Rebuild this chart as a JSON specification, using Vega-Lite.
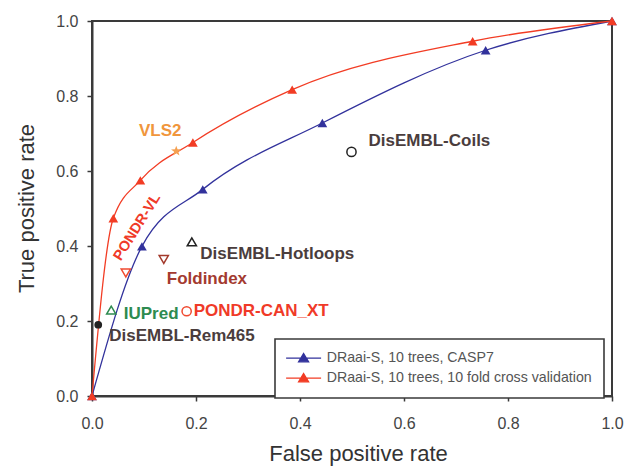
{
  "$schema": "https://vega.github.io/schema/vega-lite/v6.json",
  "width": 520,
  "height": 375,
  "autosize": {"type": "none"},
  "padding": {"left": 92, "top": 21, "right": 12, "bottom": 71},
  "background": "white",
  "config": {
    "font": "Liberation Sans",
    "view": {"stroke": "#3a3a3a", "strokeWidth": 2},
    "axis": {
      "grid": false,
      "domainColor": "#3a3a3a",
      "domainWidth": 2,
      "tickColor": "#3a3a3a",
      "tickWidth": 1.5,
      "tickSize": 5,
      "labelFont": "Liberation Sans",
      "labelFontSize": 16,
      "labelColor": "#444444",
      "labelFlush": false,
      "titleFont": "Liberation Sans",
      "titleFontSize": 22,
      "titleFontWeight": "normal",
      "titleColor": "#333333"
    }
  },
  "datasets": {
    "curves": [
      {"series": "DRaai-S, 10 trees, CASP7", "fpr": 0.0, "tpr": 0.0},
      {"series": "DRaai-S, 10 trees, CASP7", "fpr": 0.096, "tpr": 0.399},
      {"series": "DRaai-S, 10 trees, CASP7", "fpr": 0.213, "tpr": 0.551},
      {"series": "DRaai-S, 10 trees, CASP7", "fpr": 0.443, "tpr": 0.728},
      {"series": "DRaai-S, 10 trees, CASP7", "fpr": 0.757, "tpr": 0.922},
      {"series": "DRaai-S, 10 trees, CASP7", "fpr": 1.0, "tpr": 1.0},
      {"series": "DRaai-S, 10 trees, 10 fold cross validation", "fpr": 0.0, "tpr": 0.0},
      {"series": "DRaai-S, 10 trees, 10 fold cross validation", "fpr": 0.041, "tpr": 0.474},
      {"series": "DRaai-S, 10 trees, 10 fold cross validation", "fpr": 0.093, "tpr": 0.575},
      {"series": "DRaai-S, 10 trees, 10 fold cross validation", "fpr": 0.194, "tpr": 0.676},
      {"series": "DRaai-S, 10 trees, 10 fold cross validation", "fpr": 0.385, "tpr": 0.817},
      {"series": "DRaai-S, 10 trees, 10 fold cross validation", "fpr": 0.732, "tpr": 0.946},
      {"series": "DRaai-S, 10 trees, 10 fold cross validation", "fpr": 1.0, "tpr": 1.0}
    ],
    "markers": [
      {"method": "VLS2", "fpr": 0.162, "tpr": 0.653},
      {"method": "DisEMBL-Coils", "fpr": 0.499, "tpr": 0.651},
      {"method": "DisEMBL-Hotloops", "fpr": 0.192, "tpr": 0.411},
      {"method": "Foldindex", "fpr": 0.138, "tpr": 0.364},
      {"method": "PONDR-VL", "fpr": 0.065, "tpr": 0.328},
      {"method": "IUPred", "fpr": 0.037, "tpr": 0.229},
      {"method": "PONDR-CAN_XT", "fpr": 0.182, "tpr": 0.226},
      {"method": "DisEMBL-Rem465", "fpr": 0.012, "tpr": 0.19}
    ]
  },
  "encoding": {
    "x": {
      "field": "fpr",
      "type": "quantitative",
      "scale": {"domain": [0, 1], "nice": false, "zero": false},
      "axis": {
        "title": "False positive rate",
        "values": [0, 0.2, 0.4, 0.6, 0.8, 1],
        "format": ".1f",
        "labelPadding": 14,
        "titleX": 266,
        "titleY": 64,
        "titleAlign": "center",
        "titleBaseline": "alphabetic"
      }
    },
    "y": {
      "field": "tpr",
      "type": "quantitative",
      "scale": {"domain": [0, 1], "nice": false, "zero": false},
      "axis": {
        "title": "True positive rate",
        "values": [0, 0.2, 0.4, 0.6, 0.8, 1],
        "format": ".1f",
        "labelPadding": 9,
        "titleAngle": -90,
        "titleX": -59,
        "titleY": 187,
        "titleAlign": "center",
        "titleBaseline": "alphabetic"
      }
    }
  },
  "layer": [
    {
      "data": {"name": "curves"},
      "mark": {"type": "line", "interpolate": "monotone", "strokeWidth": 1.3},
      "encoding": {
        "color": {
          "field": "series",
          "type": "nominal",
          "scale": {
            "domain": ["DRaai-S, 10 trees, CASP7", "DRaai-S, 10 trees, 10 fold cross validation"],
            "range": ["#32329c", "#f23c24"]
          },
          "legend": {
            "title": null,
            "orient": "none",
            "legendX": 183,
            "legendY": 318,
            "symbolType": "M-3.5,0H3.5M0,-0.9L1,0.75L-1,0.75Z",
            "symbolSize": 100,
            "symbolOffset": 9.5,
            "labelOffset": 16,
            "labelFont": "Liberation Sans",
            "labelFontSize": 14.2,
            "labelColor": "#555555",
            "labelLimit": 400,
            "padding": 12,
            "rowPadding": 5,
            "fillColor": "white",
            "strokeColor": "#3a3a3a",
            "symbolStrokeWidth": 1.3,
            "encode": {
              "legend": {"update": {"strokeWidth": {"value": 1.6}}},
              "symbols": {
                "update": {
                  "stroke": {"scale": "color", "field": "value"},
                  "fill": {"scale": "color", "field": "value"},
                  "opacity": {"value": 1}
                }
              }
            }
          }
        }
      }
    },
    {
      "data": {"name": "curves"},
      "mark": {"type": "point", "shape": "triangle-up", "filled": true, "size": 95, "opacity": 1},
      "encoding": {
        "color": {"field": "series", "type": "nominal"}
      }
    },
    {
      "data": {"name": "markers"},
      "transform": [{"filter": "datum.method !== 'VLS2' && datum.method !== 'DisEMBL-Rem465'"}],
      "mark": {"type": "point", "filled": false, "strokeWidth": 1.5, "size": 85, "opacity": 1},
      "encoding": {
        "shape": {
          "field": "method",
          "type": "nominal",
          "scale": {
            "domain": ["VLS2", "DisEMBL-Coils", "DisEMBL-Hotloops", "Foldindex", "PONDR-VL", "IUPred", "PONDR-CAN_XT", "DisEMBL-Rem465"],
            "range": ["M0,-1L0.235,-0.324L0.951,-0.309L0.38,0.124L0.588,0.809L0,0.4L-0.588,0.809L-0.38,0.124L-0.951,-0.309L-0.235,-0.324Z", "circle", "triangle-up", "triangle-down", "triangle-down", "triangle-up", "circle", "circle"]
          },
          "legend": null
        },
        "stroke": {
          "field": "method",
          "type": "nominal",
          "scale": {
            "domain": ["VLS2", "DisEMBL-Coils", "DisEMBL-Hotloops", "Foldindex", "PONDR-VL", "IUPred", "PONDR-CAN_XT", "DisEMBL-Rem465"],
            "range": ["#f5a050", "#222222", "#222222", "#a33a2c", "#f04a30", "#2e8b50", "#f04a30", "#222222"]
          },
          "legend": null
        }
      }
    },
    {
      "data": {"name": "markers"},
      "transform": [{"filter": "datum.method === 'VLS2'"}],
      "mark": {"type": "point", "filled": true, "size": 120, "opacity": 1},
      "encoding": {
        "shape": {"field": "method", "type": "nominal", "legend": null},
        "fill": {
          "field": "method",
          "type": "nominal",
          "scale": {
            "domain": ["VLS2", "DisEMBL-Rem465"],
            "range": ["#f5a050", "#222222"]
          },
          "legend": null
        }
      }
    },
    {
      "data": {"name": "markers"},
      "transform": [{"filter": "datum.method === 'DisEMBL-Rem465'"}],
      "mark": {"type": "point", "filled": true, "size": 60, "opacity": 1},
      "encoding": {
        "shape": {"field": "method", "type": "nominal", "legend": null},
        "fill": {"field": "method", "type": "nominal", "legend": null}
      }
    },
    {
      "data": {"name": "markers"},
      "transform": [{"filter": "datum.method === 'VLS2'"}],
      "mark": {"type": "text", "text": "VLS2", "font": "Liberation Sans", "fontSize": 17, "fontWeight": "bold", "color": "#f0963c", "align": "center", "baseline": "middle", "dx": -16, "dy": -20}
    },
    {
      "data": {"name": "markers"},
      "transform": [{"filter": "datum.method === 'DisEMBL-Coils'"}],
      "mark": {"type": "text", "text": "DisEMBL-Coils", "font": "Liberation Sans", "fontSize": 17, "fontWeight": "bold", "color": "#4a3d3d", "align": "left", "baseline": "middle", "dx": 17, "dy": -11}
    },
    {
      "data": {"name": "markers"},
      "transform": [{"filter": "datum.method === 'DisEMBL-Hotloops'"}],
      "mark": {"type": "text", "text": "DisEMBL-Hotloops", "font": "Liberation Sans", "fontSize": 17, "fontWeight": "bold", "color": "#4a3d3d", "align": "left", "baseline": "middle", "dx": 8.5, "dy": 12}
    },
    {
      "data": {"name": "markers"},
      "transform": [{"filter": "datum.method === 'Foldindex'"}],
      "mark": {"type": "text", "text": "Foldindex", "font": "Liberation Sans", "fontSize": 17, "fontWeight": "bold", "color": "#a33a30", "align": "left", "baseline": "middle", "dx": 3, "dy": 19}
    },
    {
      "data": {"name": "markers"},
      "transform": [{"filter": "datum.method === 'PONDR-VL'"}],
      "mark": {"type": "text", "text": "PONDR-VL", "font": "Liberation Sans", "fontSize": 14.5, "fontWeight": "bold", "color": "#f03a28", "align": "center", "baseline": "middle", "angle": -58, "dx": 44.9, "dy": -14.5}
    },
    {
      "data": {"name": "markers"},
      "transform": [{"filter": "datum.method === 'IUPred'"}],
      "mark": {"type": "text", "text": "IUPred", "font": "Liberation Sans", "fontSize": 17, "fontWeight": "bold", "color": "#2e8b50", "align": "left", "baseline": "middle", "dx": 12.5, "dy": 3.5}
    },
    {
      "data": {"name": "markers"},
      "transform": [{"filter": "datum.method === 'PONDR-CAN_XT'"}],
      "mark": {"type": "text", "text": "PONDR-CAN_XT", "font": "Liberation Sans", "fontSize": 17, "fontWeight": "bold", "color": "#f03a28", "align": "left", "baseline": "middle", "dx": 7, "dy": 0}
    },
    {
      "data": {"name": "markers"},
      "transform": [{"filter": "datum.method === 'DisEMBL-Rem465'"}],
      "mark": {"type": "text", "text": "DisEMBL-Rem465", "font": "Liberation Sans", "fontSize": 17, "fontWeight": "bold", "color": "#4a3d3d", "align": "left", "baseline": "middle", "dx": 11, "dy": 11}
    }
  ]
}
